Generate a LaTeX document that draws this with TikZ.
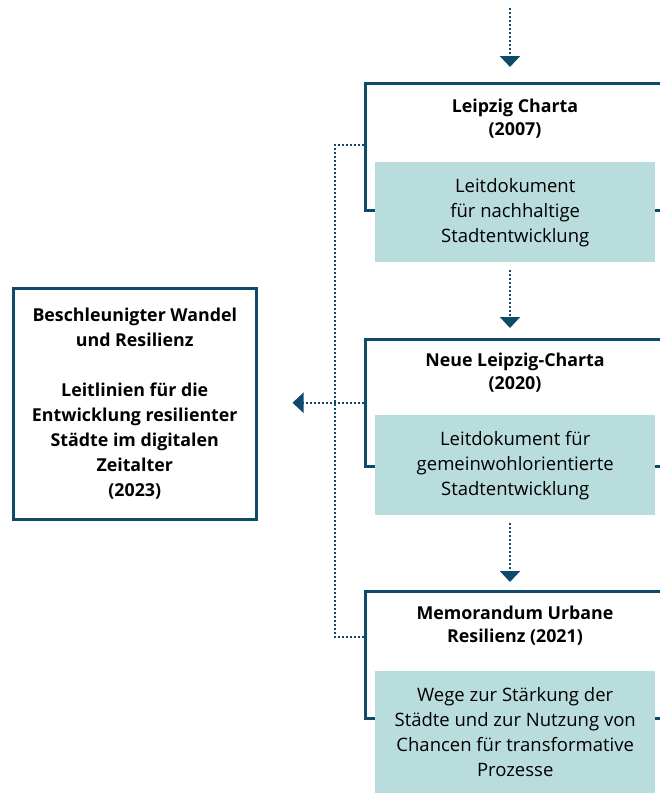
\documentclass[tikz,border=0pt]{standalone}
\usepackage{fontspec}
\setmainfont{Open Sans}
\usetikzlibrary{positioning}
\usetikzlibrary{arrows.meta, calc}
\definecolor{darkblue}{RGB}{14,74,106}
\definecolor{lightteal}{RGB}{185,220,220}

\tikzset{
  frame/.style={draw=darkblue, line width=2.5pt, anchor=north west, minimum width=330pt, minimum height=127pt},
  doc/.style={fill=lightteal, anchor=north west, minimum width=280pt, minimum height=100pt, align=center, font=\fontsize{18.5}{25}\selectfont},
  title/.style={align=center, font=\fontsize{17.8}{23}\selectfont\bfseries},
  flow/.style={darkblue, line width=2.2pt, dash pattern=on 1.8pt off 2.2pt, -{Triangle[width=20pt,length=11pt]}},
  dotline/.style={darkblue, line width=2.2pt, dash pattern=on 1.8pt off 2.2pt},
}

\begin{document}
\begin{tikzpicture}[x=1pt, y=-1pt]
    \useasboundingbox (0,0) rectangle (660,793);
    \clip (0,0) rectangle (660,793);

    % Leipzig Charta (2007)
    \node[frame] (frame1) at (364,82) {};
    \node[title] (title1) at (515,118.5) {Leipzig Charta\\(2007)};
    \node[doc] (doc1) at (375,162) {Leitdokument\\für nachhaltige\\Stadtentwicklung};

    % Neue Leipzig-Charta (2020)
    \node[frame] (frame2) at (364,338) {};
    \node[title] (title2) at (515,372.5) {Neue Leipzig-Charta\\(2020)};
    \node[doc] (doc2) at (375,415) {Leitdokument für\\gemeinwohlorientierte\\Stadtentwicklung};

    % Memorandum Urbane Resilienz (2021)
    \node[frame] (frame3) at (364,590) {};
    \node[title] (title3) at (515,625.5) {Memorandum Urbane\\Resilienz (2021)};
    \node[doc, minimum height=122pt] (doc3) at (375,671) {Wege zur Stärkung der\\Städte und zur Nutzung von\\Chancen für transformative\\Prozesse};

    % Beschleunigter Wandel und Resilienz (2023)
    \node[draw=darkblue, line width=2.5pt, anchor=north west, minimum width=243pt, minimum height=231pt,
          align=center, font=\fontsize{17.8}{25}\selectfont\bfseries] (wandel) at (12,287)
          {Beschleunigter Wandel\\und Resilienz\\[25pt]Leitlinien für die\\Entwicklung resilienter\\Städte im digitalen\\Zeitalter\\(2023)};

    % Pfeile von oben nach unten
    \coordinate (top) at (510,8);
    \draw[flow] (top) -- ([yshift=15pt]top |- frame1.north);
    \draw[flow] ([yshift=-8pt]doc1.south -| top) -- ([yshift=10pt]top |- frame2.north);
    \draw[flow] ([yshift=-8pt]doc2.south -| top) -- ([yshift=8pt]top |- frame3.north);

    % gepunktete Verbindung links
    \coordinate (bus) at (335,400);
    \draw[dotline] ([yshift=2pt]frame1.west) -| (bus) |- ([yshift=18pt]frame3.west);
    \draw[flow, shorten >=35pt] (frame2.west) -- (frame2.west -| wandel.east);
\end{tikzpicture}
\end{document}
